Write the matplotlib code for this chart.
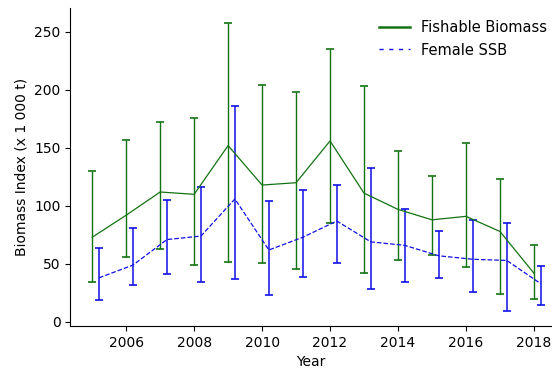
import numpy as np
import matplotlib
matplotlib.use("Agg")
import matplotlib.pyplot as plt
from matplotlib.lines import Line2D

years = np.arange(2005, 2019)

fishable = [73, 92, 112, 110, 152, 118, 120, 156, 111, 97, 88, 91, 78, 42]
fishable_lo = [34, 56, 63, 49, 52, 51, 46, 85, 42, 53, 58, 47, 24, 20]
fishable_hi = [130, 157, 172, 176, 258, 204, 198, 235, 203, 147, 126, 154, 123, 66]

ssb = [38, 49, 71, 74, 106, 62, 73, 87, 69, 66, 57, 54, 53, 33]
ssb_lo = [19, 32, 41, 34, 37, 23, 39, 51, 28, 34, 38, 26, 9, 15]
ssb_hi = [64, 81, 105, 116, 186, 104, 114, 118, 133, 97, 78, 88, 85, 48]

green = '#127312'
blue = '#1010e8'

fig = plt.figure(figsize=(5.52, 3.70), dpi=100)
ax = fig.add_axes([0.127, 0.119, 0.871, 0.859])

fb = np.array(fishable)
sb = np.array(ssb)
yerr_fb = [fb - np.array(fishable_lo), np.array(fishable_hi) - fb]
yerr_sb = [sb - np.array(ssb_lo), np.array(ssb_hi) - sb]

ax.errorbar(years, fb, yerr=yerr_fb, color=green, ls='-', lw=0.9,
            elinewidth=1, capsize=3, capthick=1.2)
ax.errorbar(years + 0.2, sb, yerr=yerr_sb, color=blue, ls='--', lw=0.9,
            elinewidth=1.1, capsize=3, capthick=1.2)

ax.set_xlim(2004.35, 2018.5)
ax.set_ylim(-3.5, 270.5)
ax.set_xticks(range(2006, 2019, 2))
ax.set_yticks(range(0, 251, 50))
ax.tick_params(labelsize=10)
ax.spines['top'].set_visible(False)
ax.spines['right'].set_visible(False)
ax.set_xlabel('Year', fontsize=10)
ax.set_ylabel('Biomass Index (x 1 000 t)', fontsize=10)

handles = [Line2D([], [], color=green, lw=1.8, ls='-'),
           Line2D([], [], color=blue, lw=1.0, ls=(0, (3, 4)))]
ax.legend(handles, ['Fishable Biomass', 'Female SSB'], loc='upper right',
          frameon=False, fontsize=10.5, handlelength=2.1,
          bbox_to_anchor=(1.02, 1.003))

fig.savefig('out.png', dpi=100)
